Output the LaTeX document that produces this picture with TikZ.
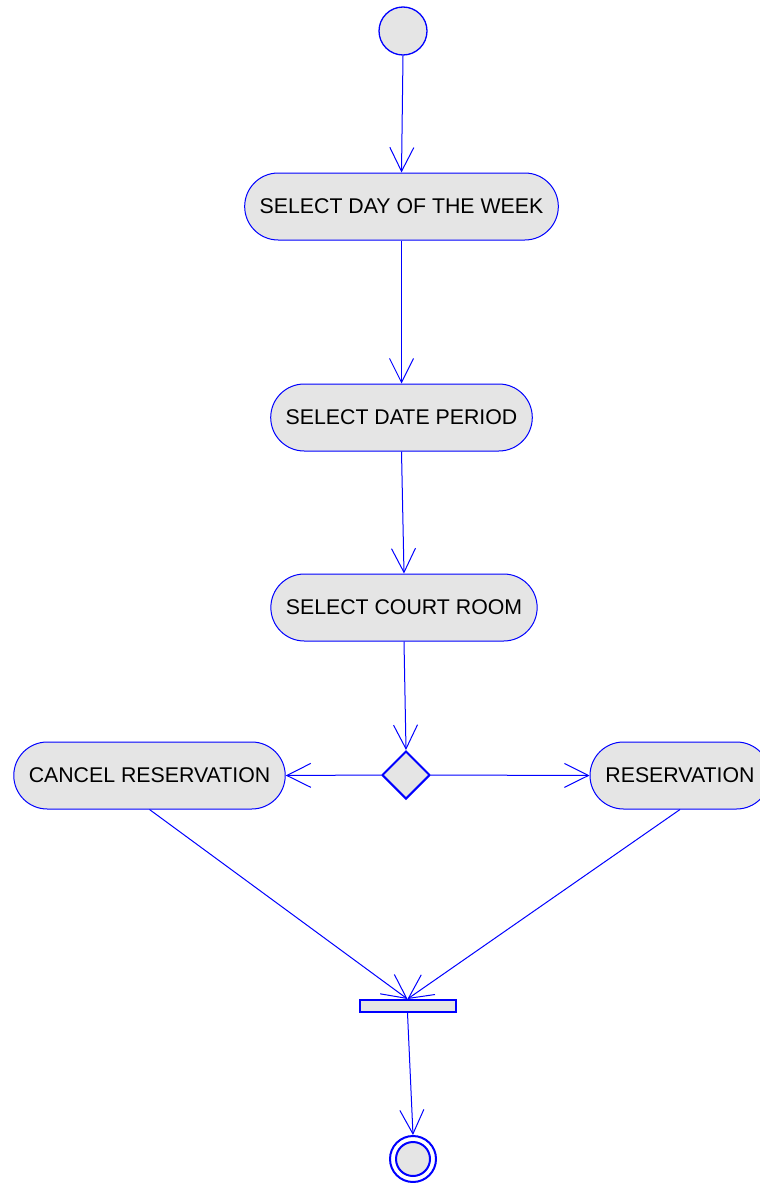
\documentclass[tikz,border=0pt]{standalone}
\usepackage{fontspec}
\setmainfont{Liberation Sans}
\usetikzlibrary{arrows.meta,shapes.geometric}
\definecolor{umlblue}{RGB}{0,0,255}
\definecolor{umlfill}{RGB}{229,229,229}
\begin{document}
\begin{tikzpicture}[x=1pt,y=-1pt,
  action/.style={draw=umlblue,fill=umlfill,line width=1pt,rounded corners=33.5pt,
    minimum height=67pt,inner xsep=15pt,font=\fontsize{21.3}{25}\selectfont},
  flow/.style={draw=umlblue,line width=1pt,-{Straight Barb[length=24pt,width=24pt,line width=1pt]}},
  startnode/.style={circle,draw=umlblue,fill=umlfill,line width=1.3pt,minimum size=48pt,inner sep=0pt},
  decision/.style={diamond,draw=umlblue,fill=umlfill,line width=2pt,minimum size=48pt,inner sep=0pt,aspect=1},
  joinbar/.style={rectangle,draw=umlblue,fill=umlfill,line width=2pt,minimum width=96pt,minimum height=12pt,inner sep=0pt}]
\useasboundingbox (0,0) rectangle (760,1183);
\clip (0,0) rectangle (760,1183);
\fill[white] (0,0) rectangle (760,1183);

\node[startnode] (start) at (403,31) {};
\node[action] (day) at (401.5,206.5) {SELECT DAY OF THE WEEK};
\node[action] (period) at (401.5,417.5) {SELECT DATE PERIOD};
\node[action] (room) at (404,607.5) {SELECT COURT ROOM};
\node[decision] (dec) at (406,775) {};
\node[action] (cancel) at (149.5,775.5) {CANCEL RESERVATION};
\node[action,minimum width=180pt] (reserve) at (680,775.5) {RESERVATION};
\node[joinbar] (bar) at (407.5,1006) {};

% final node: outer ring with filled inner disc
\node[circle,draw=umlblue,fill=white,line width=2pt,minimum size=46pt,inner sep=0pt] (final) at (413,1159) {};
\node[circle,draw=umlblue,fill=umlfill,line width=2pt,minimum size=34pt,inner sep=0pt] (finalin) at (final.center) {};

\draw[flow] (start.south) -- (day.north);
\draw[flow] (day.south) -- (period.north);
\draw[flow] (period.south) -- (room.north);
\draw[flow] (room.south) -- (dec.north);
\draw[flow] (dec.west) -- (cancel.east);
\draw[flow] (dec.east) -- (reserve.west);
\draw[flow] (cancel.south) -- (bar.north);
\draw[flow] (reserve.south) -- (bar.north);
\draw[flow] (bar.south) -- (final.north);
\end{tikzpicture}
\end{document}
